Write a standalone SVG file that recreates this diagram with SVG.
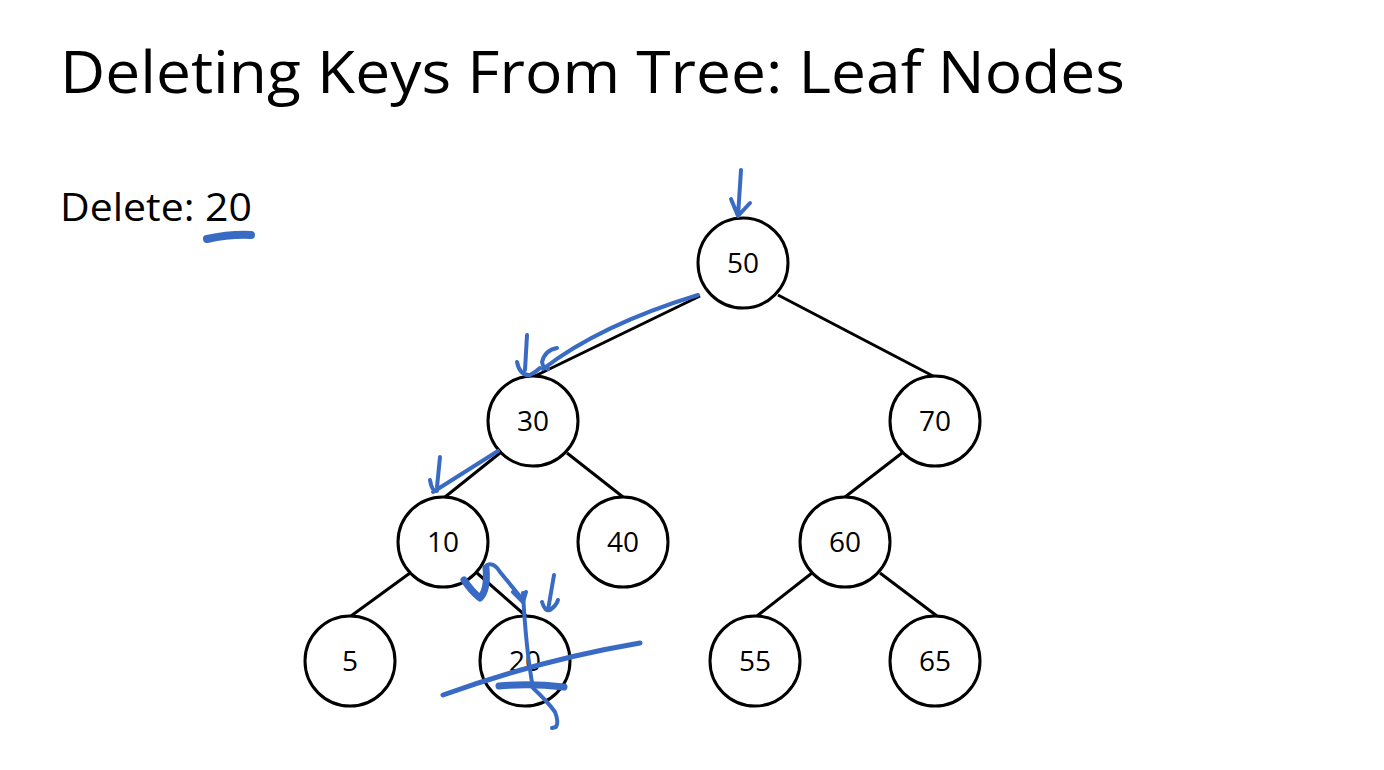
<svg xmlns="http://www.w3.org/2000/svg" width="1384" height="770" viewBox="0 0 1384 770">
<style>
.t{font-family:"Open Sans","Liberation Sans",sans-serif;fill:#000}
.n circle{fill:#fff;stroke:#000;stroke-width:3}
.n text{font-family:"Open Sans","Liberation Sans",sans-serif;font-size:28px;text-anchor:middle;fill:#000}
.e line{stroke:#000;stroke-width:3}
.ink{fill:none;stroke:#3a6bc4;stroke-width:4;stroke-linecap:round;stroke-linejoin:round}
.w5{stroke-width:5}
.w7{stroke-width:7}
.w8{stroke-width:8}
</style>
<rect width="1384" height="770" fill="#fff"/>
<text class="t" x="60" y="93" font-size="58" textLength="1065" lengthAdjust="spacingAndGlyphs">Deleting Keys From Tree: Leaf Nodes</text>
<text class="t" x="60" y="221" font-size="38" textLength="192" lengthAdjust="spacingAndGlyphs">Delete: 20</text>
<g id="connectors" class="e">
<line x1="700" y1="296" x2="535" y2="376"/>
<line x1="778" y1="295" x2="933" y2="376"/>
<line x1="500" y1="453" x2="445" y2="497"/>
<line x1="567" y1="453" x2="623" y2="497"/>
<line x1="902" y1="453" x2="845" y2="497"/>
<line x1="410" y1="573" x2="351" y2="616"/>
<line x1="477" y1="573" x2="526" y2="616"/>
<line x1="812" y1="573" x2="757" y2="616"/>
<line x1="880" y1="573" x2="937" y2="616"/>
</g>
<g id="n50" class="n"><circle cx="743" cy="263" r="45"/><text x="743" y="273">50</text></g>
<g id="n30" class="n"><circle cx="533" cy="421" r="45"/><text x="533" y="431">30</text></g>
<g id="n70" class="n"><circle cx="935" cy="421" r="45"/><text x="935" y="431">70</text></g>
<g id="n10" class="n"><circle cx="443" cy="542" r="45"/><text x="443" y="552">10</text></g>
<g id="n40" class="n"><circle cx="623" cy="542" r="45"/><text x="623" y="552">40</text></g>
<g id="n60" class="n"><circle cx="845" cy="542" r="45"/><text x="845" y="552">60</text></g>
<g id="n5" class="n"><circle cx="350" cy="661" r="45"/><text x="350" y="671">5</text></g>
<g id="n20" class="n"><circle cx="525" cy="661" r="45"/><text x="525" y="671">20</text></g>
<g id="n55" class="n"><circle cx="755" cy="661" r="45"/><text x="755" y="671">55</text></g>
<g id="n65" class="n"><circle cx="935" cy="661" r="45"/><text x="935" y="671">65</text></g>
<g id="ink">
<path class="ink w8" d="M207 239 Q230 234 251 235"/>
<path class="ink" d="M741 170 L738 216 M731 199 L738 216 L750 203"/>
<path class="ink" d="M698 295 Q600 325 543 369 M557 348 Q545 350 542 362 Q543 368 548 369"/>
<path class="ink" d="M527 335 L525 370 M517 362 Q520 376 530 375 Q536 372 540 368"/>
<path class="ink" d="M498 451 Q460 475 433 492 M440 457 L437 487 M430 480 Q432 492 437 491"/>
<path class="ink w7" d="M464 580 Q472 592 480 598 Q488 590 486 568"/>
<path class="ink" d="M487 565 Q494 562 500 572 L523 600 M513 592 L523 602 L526 592"/>
<path class="ink" d="M554 575 L548 610 M542 602 Q545 612 550 610 Q556 606 558 600"/>
<path class="ink" d="M523 593 Q526 650 533 688 Q548 702 555 712 Q559 722 556 727 L552 728"/>
<path class="ink w5" d="M443 695 Q540 660 640 643"/>
<path class="ink w7" d="M499 686 Q530 683 564 687"/>
</g>
</svg>
